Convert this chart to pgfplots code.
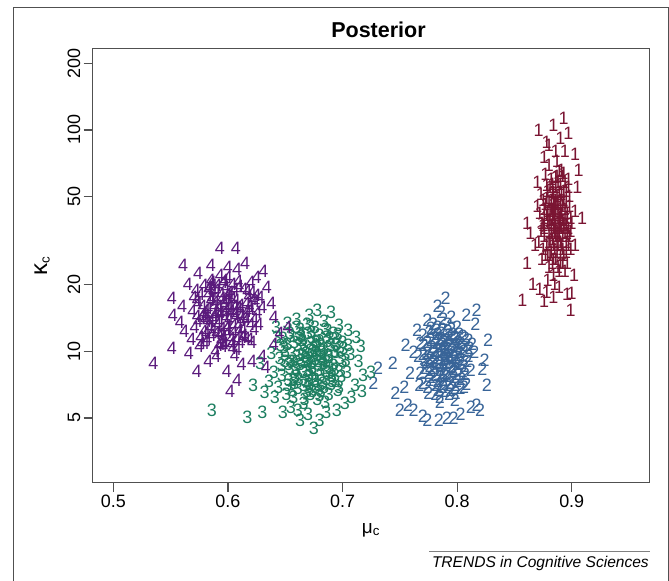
\documentclass[border=0pt]{standalone}
\usepackage{pgfplots}
\pgfplotsset{compat=1.18}
\usepackage{fontspec}
\setmainfont{Liberation Sans}

\definecolor{cone}{RGB}{122,20,50}
\definecolor{ctwo}{RGB}{56,100,152}
\definecolor{cthree}{RGB}{28,126,96}
\definecolor{cfour}{RGB}{90,26,124}
\definecolor{framegray}{RGB}{80,80,80}
\newcommand\digitfont{\fontsize{18}{18}\selectfont}

\begin{document}
\begin{tikzpicture}
\useasboundingbox (0,0) rectangle (669bp,581bp);
% outer frame (its bottom edge is cut off in the reference)
\draw[framegray, line width=1.2bp] (13.3bp,0bp) -- (13.3bp,573.7bp) -- (668.3bp,573.7bp) -- (668.3bp,0bp);
\node[font=\bfseries\fontsize{21.6}{21.6}\selectfont] at (378.5bp,551bp) {Posterior};
\draw[gray, line width=1bp] (429bp,29.3bp) -- (650bp,29.3bp);
\node[anchor=east, font=\itshape\fontsize{15.6}{15.6}\selectfont, inner sep=0pt] at (649bp,17.5bp) {TRENDS in Cognitive Sciences};

\begin{axis}[
  at={(92.7bp,98.3bp)}, anchor=south west,
  scale only axis,
  width=556.6bp, height=434.4bp,
  ymode=log,
  xmin=0.482, xmax=0.9677,
  ymin=2.55, ymax=233.8,
  xtick={0.5,0.6,0.7,0.8,0.9},
  xticklabels={0.5,0.6,0.7,0.8,0.9},
  ytick={5,10,20,50,100,200},
  yticklabels={5,10,20,50,100,200},
  yminorticks=false,
  tick align=outside,
  xtick pos=bottom, ytick pos=left,
  major tick length=9bp,
  axis line style={framegray, line width=1.2bp},
  tick style={framegray, line width=1.2bp},
  tick label style={font=\digitfont},
  yticklabel style={rotate=90, anchor=south},
  xlabel={μ\textsubscript{c}},
  ylabel={{\fontsize{24}{24}\selectfont κ}\textsubscript{c}},
  label style={font=\fontsize{19}{19}\selectfont},
  xlabel style={at={(axis description cs:0.5,-0.109)}, anchor=center},
  ylabel style={at={(axis description cs:-0.091,0.5)}, anchor=center},
  clip=false,
  every axis plot/.append style={only marks, mark=text, text mark as node=true,
    text mark style={font=\digitfont, anchor=center, inner sep=0pt}},
]
% group 1
\addplot[color=cone, text mark={1}] coordinates {
(0.887,35) (0.884,41) (0.891,30) (0.879,38) (0.894,44) (0.882,28) (0.889,52) (0.876,33)
(0.897,36) (0.885,47) (0.880,24) (0.893,27) (0.888,58) (0.872,42) (0.899,40) (0.883,32)
(0.890,37) (0.878,49) (0.895,31) (0.886,26) (0.881,55) (0.892,45) (0.875,29) (0.898,50)
(0.884,36) (0.889,23) (0.877,63) (0.894,34) (0.886,43) (0.880,39) (0.891,66) (0.873,35)
(0.896,25) (0.888,30) (0.882,48) (0.900,38) (0.879,21) (0.887,72) (0.893,53) (0.870,45)
(0.885,34) (0.890,27) (0.876,40) (0.897,60) (0.883,44) (0.889,33) (0.881,31) (0.895,47)
(0.874,26) (0.892,39) (0.886,80) (0.878,56) (0.899,29) (0.884,22) (0.891,36) (0.880,69)
(0.888,42) (0.894,23) (0.871,31) (0.887,46) (0.882,37) (0.896,42) (0.877,46) (0.890,57)
(0.885,20) (0.893,64) (0.879,27) (0.898,33) (0.883,52) (0.888,38) (0.875,37) (0.892,25)
(0.886,61) (0.881,43) (0.897,55) (0.884,30) (0.890,48) (0.873,51) (0.895,37) (0.887,28)
(0.893,113) (0.871,100) (0.897,97) (0.890,92) (0.878,88) (0.903,78) (0.906,66) (0.905,55)
(0.909,40) (0.903,43) (0.861,38) (0.864,34) (0.868,30) (0.861,25) (0.866,20) (0.872,19)
(0.878,18.5) (0.884,17.5) (0.896,18) (0.900,18.3) (0.899,15.3) (0.857,17) (0.880,85)
(0.894,80) (0.876,75) (0.870,58) (0.903,30) (0.902,22) (0.876,16.8) (0.889,19.5) (0.884,105)
(0.886,33) (0.883,39) (0.890,44) (0.880,35) (0.893,38) (0.887,50) (0.878,30) (0.895,28)
(0.884,46) (0.889,40) (0.881,27) (0.892,33) (0.886,55) (0.876,44) (0.898,45) (0.883,25)
(0.890,31) (0.879,53) (0.894,58) (0.885,38) (0.888,24) (0.882,60) (0.896,40) (0.874,38)
(0.891,51) (0.887,31) (0.880,47) (0.893,36) (0.885,29) (0.889,65) (0.877,27) (0.899,35)
(0.884,52) (0.890,41) (0.882,34) (0.895,53) (0.886,37) (0.879,43) (0.892,29) (0.888,47)
(0.881,39) (0.897,30) (0.875,48) (0.891,42) (0.884,26) (0.887,62) (0.893,48) (0.880,31)
(0.889,36) (0.883,57) (0.896,34) (0.878,41) (0.890,25) (0.885,43) (0.892,62) (0.876,36)
(0.888,34) (0.882,44) (0.894,39) (0.886,48)
};
% group 2
\addplot[color=ctwo, text mark={2}] coordinates {
(0.790,8.8) (0.784,9.6) (0.797,8.1) (0.779,8.4) (0.802,9.9) (0.788,7.4) (0.794,10.8) (0.772,9.1)
(0.806,8.6) (0.786,11.5) (0.799,7.0) (0.781,7.8) (0.792,9.3) (0.775,10.2) (0.810,9.5) (0.783,6.7)
(0.796,12.0) (0.768,8.0) (0.804,7.5) (0.789,10.4) (0.777,11.2) (0.801,11.0) (0.785,8.2) (0.793,6.4)
(0.770,7.2) (0.808,10.6) (0.780,9.8) (0.798,9.0) (0.787,12.6) (0.774,6.9) (0.812,8.2) (0.791,7.7)
(0.782,10.9) (0.795,8.5) (0.766,9.5) (0.803,6.8) (0.788,9.1) (0.776,8.6) (0.800,12.8) (0.785,6.2)
(0.807,7.9) (0.793,11.4) (0.771,10.6) (0.798,6.0) (0.783,11.9) (0.790,9.7) (0.815,9.9) (0.778,7.6)
(0.796,10.1) (0.786,7.1) (0.805,11.7) (0.773,8.9) (0.792,13.2) (0.781,8.9) (0.800,7.3) (0.767,7.0)
(0.810,11.2) (0.789,6.6) (0.776,12.2) (0.797,9.4) (0.784,10.0) (0.803,8.8) (0.770,11.8) (0.794,7.2)
(0.787,8.0) (0.779,13.3) (0.808,7.1) (0.791,10.3) (0.775,6.5) (0.801,9.6) (0.785,5.9) (0.796,6.8)
(0.782,12.4) (0.813,10.8) (0.768,10.9) (0.790,11.2) (0.799,8.3) (0.777,9.3) (0.804,10.2) (0.788,13.9)
(0.786,15.0) (0.795,14.2) (0.783,16.0) (0.790,17.4) (0.817,15.3) (0.808,14.5) (0.774,13.8) (0.816,13.2)
(0.827,11.2) (0.824,9.1) (0.822,8.3) (0.826,7.0) (0.817,5.7) (0.820,5.4) (0.812,5.6) (0.803,5.2)
(0.797,5.0) (0.791,5.0) (0.784,4.9) (0.774,4.9) (0.770,5.1) (0.762,5.4) (0.757,5.7) (0.746,6.5)
(0.754,6.9) (0.759,8.0) (0.744,8.8) (0.762,9.9) (0.755,10.7) (0.765,12.4) (0.750,5.4) (0.731,8.4)
(0.727,7.2)
(0.789,9.2) (0.785,8.6) (0.795,9.9) (0.781,9.3) (0.799,10.5) (0.791,8.0) (0.787,10.8) (0.777,8.2)
(0.803,9.2) (0.793,11.8) (0.783,7.3) (0.797,7.6) (0.774,9.8) (0.806,10.0) (0.788,6.9) (0.780,11.5)
(0.794,9.6) (0.800,8.7) (0.786,12.1) (0.778,10.4) (0.805,8.1) (0.792,7.0) (0.784,8.8) (0.798,11.6)
(0.771,8.4) (0.809,9.0) (0.790,10.1) (0.782,7.0) (0.796,8.3) (0.787,9.9) (0.776,7.4) (0.802,12.0)
(0.793,8.9) (0.780,10.0) (0.799,6.5) (0.788,11.1) (0.774,11.0) (0.807,11.4) (0.785,7.7) (0.795,12.6)
(0.779,9.0) (0.801,7.9) (0.791,9.5) (0.783,12.9) (0.797,10.7) (0.770,9.7) (0.811,10.3) (0.789,7.8)
(0.786,10.5) (0.794,6.7) (0.781,6.4) (0.803,10.9) (0.792,12.3) (0.777,12.7) (0.806,6.9) (0.784,11.3)
(0.798,9.3) (0.788,8.3) (0.775,8.0) (0.800,11.3)
};
% group 3
\addplot[color=cthree, text mark={3}] coordinates {
(0.674,8.5) (0.668,9.4) (0.681,7.8) (0.660,8.2) (0.688,9.6) (0.671,7.1) (0.677,10.5) (0.655,9.0)
(0.693,8.3) (0.665,11.2) (0.684,6.9) (0.662,7.5) (0.679,9.0) (0.650,10.0) (0.698,9.3) (0.669,6.6)
(0.686,11.6) (0.647,7.8) (0.691,7.3) (0.672,10.1) (0.658,11.0) (0.695,10.8) (0.666,8.0) (0.680,6.3)
(0.652,7.0) (0.701,10.3) (0.663,9.6) (0.683,8.8) (0.673,12.2) (0.656,6.7) (0.704,8.0) (0.676,7.5)
(0.661,10.6) (0.689,8.4) (0.645,9.3) (0.696,6.7) (0.670,9.0) (0.659,8.4) (0.687,12.4) (0.667,6.1)
(0.699,7.7) (0.678,11.1) (0.649,10.4) (0.685,5.9) (0.664,11.7) (0.675,9.5) (0.707,9.7) (0.657,7.4)
(0.682,9.9) (0.670,6.9) (0.694,11.4) (0.653,8.7) (0.676,12.9) (0.663,8.7) (0.690,7.1) (0.644,6.9)
(0.700,11.0) (0.672,6.4) (0.654,12.0) (0.683,9.2) (0.668,9.8) (0.692,8.6) (0.648,11.5) (0.679,7.0)
(0.671,7.8) (0.660,12.8) (0.697,6.9) (0.674,10.0) (0.651,6.4) (0.688,9.4) (0.666,5.8) (0.681,6.6)
(0.663,12.1) (0.705,10.6) (0.646,10.6) (0.677,11.0) (0.686,8.1) (0.657,9.0) (0.693,10.0) (0.669,13.3)
(0.640,8.0) (0.641,6.2) (0.636,7.3) (0.638,9.8) (0.643,11.6) (0.642,12.9) (0.652,13.4) (0.660,14.0)
(0.671,14.6) (0.684,13.7) (0.690,15.0) (0.678,15.3) (0.697,13.1) (0.705,12.4) (0.712,11.6) (0.716,10.5)
(0.714,9.0) (0.718,7.8) (0.711,7.0) (0.717,6.6) (0.708,6.2) (0.702,5.8) (0.695,5.4) (0.686,5.3)
(0.680,4.9) (0.675,4.5) (0.670,5.2) (0.661,5.4) (0.655,5.6) (0.648,5.3) (0.663,4.9) (0.630,5.3)
(0.617,5.05) (0.586,5.4) (0.622,7.0) (0.628,8.8) (0.632,6.5) (0.725,8.0)
(0.673,8.8) (0.669,8.1) (0.678,9.6) (0.664,9.1) (0.684,10.2) (0.676,7.3) (0.672,10.9) (0.659,7.7)
(0.689,8.0) (0.680,11.8) (0.666,7.0) (0.686,7.5) (0.656,9.8) (0.694,9.9) (0.674,6.6) (0.662,11.4)
(0.682,8.6) (0.690,10.6) (0.670,12.0) (0.654,8.4) (0.697,8.1) (0.677,6.9) (0.667,8.9) (0.687,11.1)
(0.652,10.8) (0.700,9.0) (0.675,10.3) (0.661,6.8) (0.683,7.2) (0.671,9.3) (0.658,7.2) (0.692,12.0)
(0.679,8.2) (0.665,10.2) (0.688,6.4) (0.673,11.6) (0.650,9.0) (0.698,10.4) (0.668,7.3) (0.685,12.6)
(0.660,9.5) (0.691,7.7) (0.676,9.2) (0.663,12.6) (0.681,10.7) (0.655,11.7) (0.703,9.1) (0.670,8.2)
(0.686,9.0) (0.678,6.1) (0.657,6.2) (0.694,7.3) (0.672,13.0) (0.647,8.6) (0.696,11.9) (0.666,10.6)
(0.682,9.5) (0.674,7.9) (0.653,7.4) (0.689,11.5)
};
% group 4
\addplot[color=cfour, text mark={4}] coordinates {
(0.598,14.3) (0.592,15.6) (0.605,13.1) (0.585,13.7) (0.611,16.2) (0.595,12.0) (0.601,17.8) (0.579,14.9)
(0.616,14.0) (0.590,18.9) (0.608,11.3) (0.587,12.5) (0.603,15.2) (0.574,16.5) (0.620,15.5) (0.594,10.8)
(0.610,19.6) (0.571,12.8) (0.614,11.8) (0.597,16.8) (0.583,18.1) (0.618,17.7) (0.591,13.3) (0.604,10.3)
(0.576,11.6) (0.624,16.8) (0.588,15.9) (0.607,14.4) (0.596,20.4) (0.580,10.9) (0.627,13.2) (0.600,12.2)
(0.586,17.3) (0.612,13.8) (0.569,15.1) (0.621,11.0) (0.593,14.7) (0.582,13.7) (0.609,20.8) (0.589,10.0)
(0.623,12.6) (0.602,18.5) (0.573,17.0) (0.606,9.6) (0.584,19.4) (0.599,15.4) (0.630,15.8) (0.581,12.0)
(0.606,16.0) (0.594,11.2) (0.617,18.7) (0.577,14.2) (0.600,21.6) (0.588,14.1) (0.613,11.6) (0.568,11.3)
(0.625,17.9) (0.596,10.5) (0.579,19.8) (0.607,15.0) (0.592,16.0) (0.615,14.2) (0.572,18.8) (0.603,11.5)
(0.595,12.7) (0.585,21.0) (0.619,11.3) (0.597,16.3) (0.575,10.5) (0.611,15.4) (0.590,9.5) (0.604,11.0)
(0.587,19.9) (0.628,17.5) (0.570,17.6) (0.600,18.0) (0.609,13.1) (0.581,14.6) (0.616,16.4) (0.593,22.0)
(0.593,29.3) (0.607,29.3) (0.561,24.5) (0.585,24.5) (0.631,23.0) (0.615,25.0) (0.600,24.0) (0.608,23.5)
(0.574,22.5) (0.551,17.4) (0.552,14.6) (0.551,10.3) (0.535,8.8) (0.573,8.1) (0.599,8.1) (0.602,6.6)
(0.633,8.5) (0.608,7.4) (0.652,12.9) (0.645,12.0) (0.640,14.2) (0.638,16.5) (0.634,19.4) (0.640,10.7)
(0.630,9.5) (0.621,9.0) (0.612,8.7) (0.562,12.3) (0.560,16.0) (0.565,20.0) (0.558,13.5) (0.566,9.8)
(0.583,9.0) (0.620,20.5) (0.625,21.5)
(0.597,14.8) (0.593,13.7) (0.602,16.0) (0.588,14.5) (0.607,17.0) (0.599,12.7) (0.595,17.4) (0.583,15.6)
(0.612,14.6) (0.591,19.8) (0.605,12.2) (0.586,11.8) (0.601,14.0) (0.578,16.0) (0.617,15.1) (0.596,11.6)
(0.606,19.0) (0.574,13.6) (0.613,12.6) (0.594,18.0) (0.585,17.0) (0.621,18.4) (0.590,12.0) (0.603,10.8)
(0.579,12.3) (0.619,16.0) (0.589,16.6) (0.609,15.8) (0.598,19.4) (0.582,11.3) (0.623,14.0) (0.600,13.0)
(0.587,18.6) (0.610,12.4) (0.573,14.4) (0.616,11.5) (0.594,15.0) (0.580,14.0) (0.604,20.0) (0.592,10.6)
(0.620,13.3) (0.599,17.0) (0.576,18.0) (0.608,10.2) (0.586,20.5) (0.601,15.8) (0.626,15.0) (0.584,12.8)
(0.604,17.4) (0.597,10.9) (0.614,19.0) (0.581,15.3) (0.597,21.0) (0.590,14.9) (0.611,11.0) (0.577,10.9)
(0.622,17.1) (0.593,11.9) (0.583,19.1) (0.606,14.7)
};
\end{axis}
\end{tikzpicture}
\end{document}
